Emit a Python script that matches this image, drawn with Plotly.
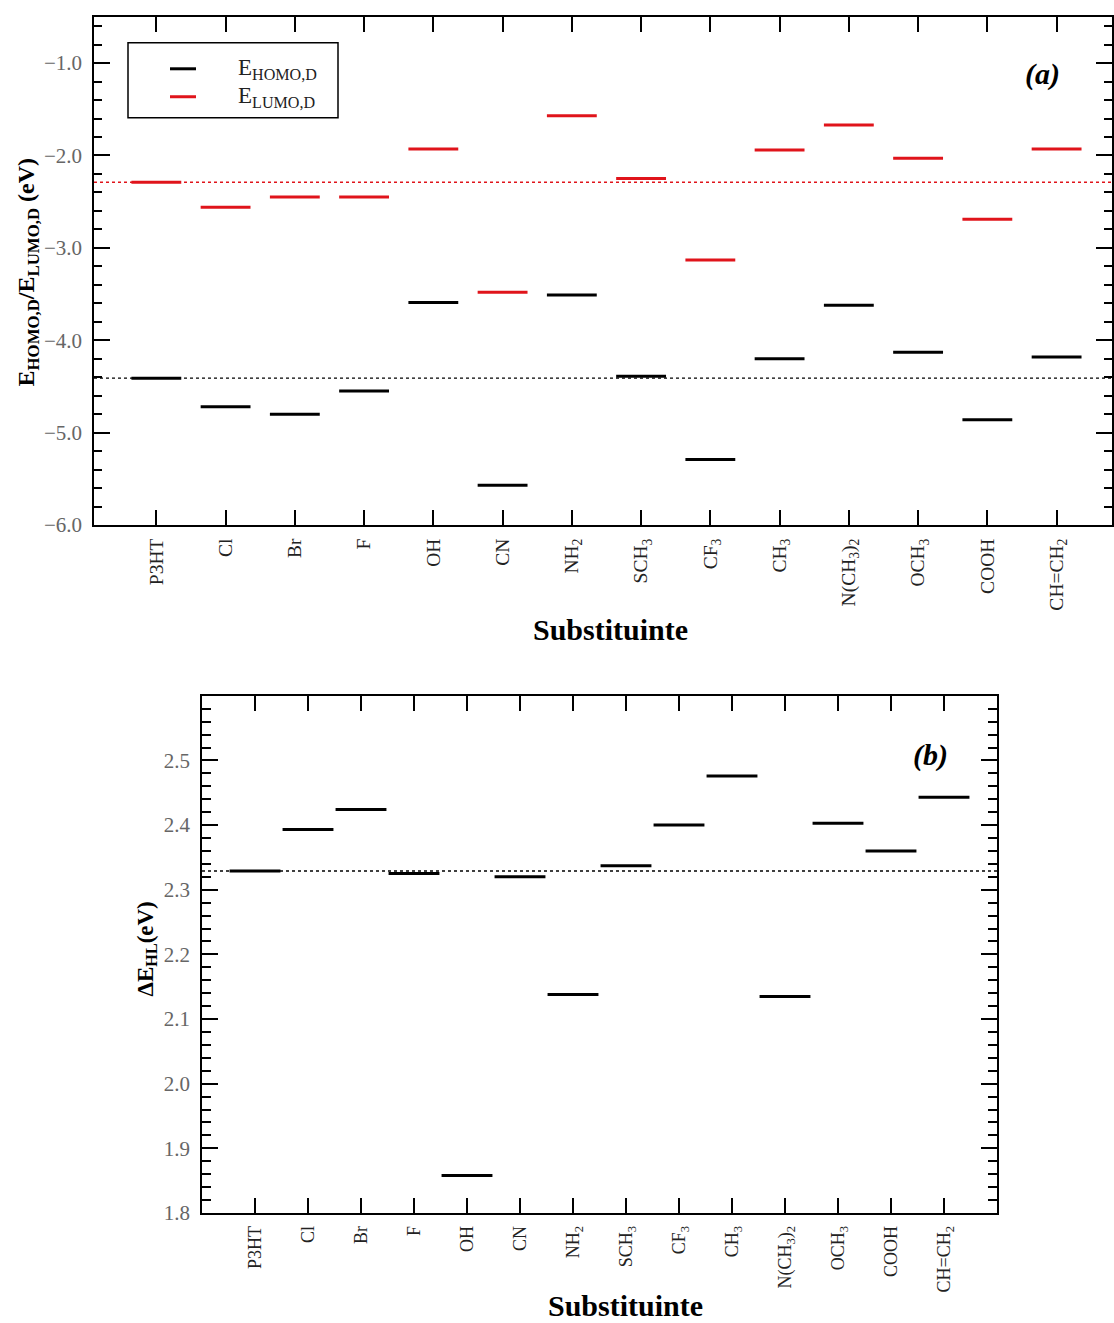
import plotly.graph_objects as go

# ---------------- data ----------------
substituents = ["P3HT", "Cl", "Br", "F", "OH", "CN", "NH<sub>2</sub>", "SCH<sub>3</sub>",
                "CF<sub>3</sub>", "CH<sub>3</sub>", "N(CH<sub>3</sub>)<sub>2</sub>",
                "OCH<sub>3</sub>", "COOH", "CH=CH<sub>2</sub>"]
e_homo = [-4.41, -4.72, -4.80, -4.55, -3.59, -5.57, -3.51, -4.39, -5.29, -4.20, -3.62, -4.13, -4.86, -4.18]
e_lumo = [-2.29, -2.56, -2.45, -2.45, -1.93, -3.48, -1.57, -2.25, -3.13, -1.94, -1.67, -2.03, -2.69, -1.93]
delta_hl = [2.329, 2.393, 2.424, 2.325, 1.858, 2.320, 2.138, 2.337, 2.400, 2.476, 2.135, 2.403, 2.360, 2.443]
series_names = ["E<sub>HOMO,D</sub>", "E<sub>LUMO,D</sub>"]
series_colors = ["black", "#e0141b"]

W, H = 1114, 1323
SERIF = "Liberation Serif"


def px(x):
    return x / W


def py(y):
    # vertical page position -> paper fraction (small empirical stretch)
    return 1 - ((y + 0.9) / 0.9925) / H


def segments(values, hw):
    xs, ys = [], []
    for i, v in enumerate(values):
        xs += [i - hw, i + hw, None]
        ys += [v, v, None]
    return xs, ys


fig = go.Figure()

# panel (a)
for vals, name, col in zip([e_homo, e_lumo], series_names, series_colors):
    x, y = segments(vals, 0.36)
    fig.add_trace(go.Scatter(x=x, y=y, mode="lines", line=dict(color=col, width=3),
                             name=name, showlegend=False, xaxis="x", yaxis="y"))
# panel (b)
x, y = segments(delta_hl, 0.48)
fig.add_trace(go.Scatter(x=x, y=y, mode="lines", line=dict(color="black", width=3),
                         showlegend=False, xaxis="x2", yaxis="y2"))

# reference dotted lines at P3HT values
fig.add_shape(type="line", xref="x domain", x0=0, x1=1, yref="y", y0=e_lumo[0], y1=e_lumo[0],
              line=dict(color="#e0141b", width=1.3, dash="dot"))
fig.add_shape(type="line", xref="x domain", x0=0, x1=1, yref="y", y0=e_homo[0], y1=e_homo[0],
              line=dict(color="black", width=1.3, dash="dot"))
fig.add_shape(type="line", xref="x2 domain", x0=0, x1=1, yref="y2", y0=delta_hl[0], y1=delta_hl[0],
              line=dict(color="black", width=1.3, dash="dot"))

# legend box (drawn by hand to match the original framed key)
fig.add_shape(type="rect", xref="paper", yref="paper", x0=px(128), x1=px(338),
              y0=py(117), y1=py(42), line=dict(color="black", width=1.5),
              fillcolor="white", layer="above")
legend_rows = [68, 96]
for row, col in zip(legend_rows, series_colors):
    fig.add_shape(type="line", xref="paper", yref="paper", x0=px(170), x1=px(196),
                  y0=py(row), y1=py(row), line=dict(color=col, width=3), layer="above")

axis_common = dict(showgrid=False, zeroline=False, showline=True, linecolor="black", linewidth=1.5,
                   mirror="allticks", ticks="inside", tickcolor="black", tickwidth=1.5)

fig.update_layout(
    width=W, height=H,
    margin=dict(l=0, r=0, t=0, b=0),
    paper_bgcolor="white", plot_bgcolor="white",
    font=dict(family=SERIF, color="black"),
    showlegend=False,
    xaxis=dict(**axis_common, domain=[px(94), px(1112)], range=[-0.9, 13.8],
               tickvals=list(range(len(substituents))), ticktext=substituents,
               tickangle=-90, ticklen=15, tickfont=dict(size=19.5, color="#222"),
               ticklabelstandoff=4, anchor="y"),
    yaxis=dict(**axis_common, domain=[py(525), py(16)], range=[-6.0, -0.5],
               tickvals=[-1, -2, -3, -4, -5, -6], ticktext=["\u22121.0", "\u22122.0", "\u22123.0",
                                                            "\u22124.0", "\u22125.0", "\u22126.0"],
               ticklen=16, tickfont=dict(size=21, color="#666"), ticklabelstandoff=6,
               minor=dict(dtick=0.2, tick0=0, ticks="inside", ticklen=8, tickcolor="black", tickwidth=1.5),
               anchor="x"),
    xaxis2=dict(**axis_common, domain=[px(202), px(997)], range=[-1.0, 14.0],
                tickvals=list(range(len(substituents))), ticktext=substituents,
                tickangle=-90, ticklen=15, tickfont=dict(size=18, color="#222"),
                ticklabelstandoff=4, anchor="y2"),
    yaxis2=dict(**axis_common, domain=[py(1214), py(696)], range=[1.8, 2.6],
                tickvals=[1.8, 1.9, 2.0, 2.1, 2.2, 2.3, 2.4, 2.5],
                ticktext=["1.8", "1.9", "2.0", "2.1", "2.2", "2.3", "2.4", "2.5"],
                ticklen=16, tickfont=dict(size=21, color="#666"), ticklabelstandoff=6,
                minor=dict(dtick=0.02, tick0=0, ticks="inside", ticklen=9, tickcolor="black", tickwidth=1.5),
                anchor="x2"),
)

annotations = [
    dict(text="<b><i>(a)</i></b>", x=px(1042), y=py(73), font=dict(size=30)),
    dict(text="<b><i>(b)</i></b>", x=px(930), y=py(755), font=dict(size=30)),
    dict(text="<b>Substituinte</b>", x=px(610), y=py(630), font=dict(size=30)),
    dict(text="<b>Substituinte</b>", x=px(625), y=py(1307), font=dict(size=30)),
    dict(text="<b>E<sub>HOMO,D</sub>/E<sub>LUMO,D</sub> (eV)</b>", x=px(28), y=py(272),
         textangle=-90, font=dict(size=24)),
    dict(text="<b>\u0394E<sub>HL</sub>(eV)</b>", x=px(147), y=py(950),
         textangle=-90, font=dict(size=23)),
]
for row, name in zip(legend_rows, series_names):
    annotations.append(dict(text=name, x=px(236), y=py(row), xanchor="left",
                            font=dict(size=23, color="#222")))
for a in annotations:
    a.update(xref="paper", yref="paper", showarrow=False, yanchor="middle")
    a.setdefault("xanchor", "center")
    a["font"].setdefault("color", "black")
    a["font"].update(family=SERIF)
fig.update_layout(annotations=annotations)

fig.write_html("out.html", config={"displayModeBar": False},
               post_script="document.body.style.margin='0px';document.body.style.overflow='hidden';")
